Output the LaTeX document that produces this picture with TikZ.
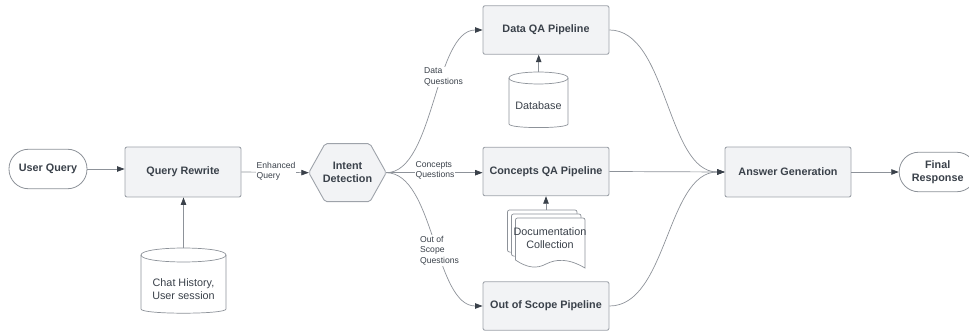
\documentclass[tikz,border=0pt]{standalone}
\usepackage{fontspec}
\setmainfont{Liberation Sans}
\usetikzlibrary{arrows.meta,calc}
\definecolor{ink}{HTML}{3A414A}
\definecolor{edge}{HTML}{8D9299}
\definecolor{boxfill}{HTML}{F2F3F5}
\definecolor{boxline}{HTML}{9EA3AA}
\tikzset{
  procbox/.style={draw=boxline,line width=0.9pt,fill=boxfill,rounded corners=2pt,inner sep=0pt,align=center,text=ink,font=\fontsize{10.8}{13}\selectfont\bfseries},
  pill/.style={draw=edge,line width=0.8pt,fill=white,rounded corners=19.5pt,inner sep=0pt,align=center,text=ink,font=\fontsize{10.8}{13}\selectfont\bfseries},
  bodytext/.style={inner sep=0pt,align=center,text=ink,font=\fontsize{10.8}{13}\selectfont},
  edgelabel/.style={fill=white,inner sep=1pt,align=left,anchor=west,text=ink,font=\fontsize{8.6}{10.4}\selectfont},
  conn/.style={draw=edge,line width=0.7pt,-{Triangle[length=7.5pt,width=5.5pt,fill=ink,color=ink]}},
  plainshape/.style={draw=edge,line width=0.7pt,fill=white},
}
\newcommand{\drawcyl}[5]{% x1 x2 y1 y2 ry
  \path[plainshape] (#1,#3+#5) -- (#1,#4-#5)
     .. controls (#1,#4-0.2*#5) and (#2,#4-0.2*#5) .. (#2,#4-#5)
     -- (#2,#3+#5)
     .. controls (#2,#3-0.33*#5) and (#1,#3-0.33*#5) .. (#1,#3+#5) -- cycle;
  \draw[draw=edge,line width=0.7pt] (#1,#3+#5) .. controls (#1,#3+2.33*#5) and (#2,#3+2.33*#5) .. (#2,#3+#5);
}
\begin{document}
\begin{tikzpicture}[x=1pt,y=-1pt]
\useasboundingbox (0,0) rectangle (969,331);
\clip (0,0) rectangle (969,331);

% shapes
\drawcyl{141}{226}{248}{316}{7}
\drawcyl{509}{568}{72}{130}{6}
% document stack
\path[plainshape,rounded corners=2pt] (507.5,252) -- (507.5,210) -- (577,210) -- (577,255) -- cycle;
\path[plainshape,rounded corners=2pt] (511.5,256) -- (511.5,214) -- (581,214) -- (581,259) -- cycle;
\path[plainshape] (515.5,260) [rounded corners=2pt] -- (515.5,218) -- (585,218) [sharp corners] -- (585,268)
   .. controls (568,258) and (556,259) .. (546,264)
   .. controls (537,269) and (527,268) .. (515.5,260) -- cycle;

% nodes
\node[pill,minimum width=78pt,minimum height=39.5pt] (uq) at (48,169) {User Query};
\node[procbox,minimum width=116pt,minimum height=50pt] (qr) at (183,172) {Query Rewrite};
\node[bodytext,minimum width=77pt,minimum height=58pt] (intent) at (347.5,172.7) {};
\path[draw=boxline,line width=0.9pt,fill=boxfill,rounded corners=2pt]
  (intent.west) -- (325,143.7) -- (370,143.7) -- (intent.east) -- (370,201.7) -- (325,201.7) -- cycle;
\node[bodytext,font=\fontsize{10.8}{13}\selectfont\bfseries] (intenttext) at (intent.center) {Intent\\Detection};
\node[bodytext] (chat) at (183.5,289) {Chat History,\\User session};
\node[procbox,minimum width=126pt,minimum height=48.5pt] (data) at (546,30) {Data QA Pipeline};
\node[bodytext] (db) at (538.5,105.5) {Database};
\node[procbox,minimum width=126pt,minimum height=48.5pt] (conc) at (546,171.5) {Concepts QA Pipeline};
\node[bodytext] (doc) at (550,238) {Documentation\\Collection};
\node[procbox,minimum width=126pt,minimum height=48.5pt] (oos) at (546,306) {Out of Scope Pipeline};
\node[procbox,minimum width=126pt,minimum height=50pt] (ans) at (788,172) {Answer Generation};
\node[pill,minimum width=77pt,minimum height=39.5pt] (final) at (937.7,172) {Final\\Response};

% free ends
\coordinate (chatTop) at (183.5,248);
\coordinate (dbTop) at (538.7,72);
\coordinate (docTop) at (546,210);

% connectors
\draw[conn] (intent.east) .. controls +(48,0) and +(-48,0) .. (data.west);
\draw[conn] (intent.east) .. controls +(48,0) and +(-48,0) .. (oos.west);
\draw[conn] (data.east) .. controls +(58,0) and +(-58,0) .. (ans.west);
\draw[conn] (oos.east) .. controls +(58,0) and +(-58,0) .. (ans.west);
\draw[conn] (conc.east) -- (ans.west);
\draw[conn] (uq.east) -- (qr.west |- uq.east);
\draw[conn] (qr.east) -- (intent.west);
\draw[conn] (chatTop) -- (chatTop |- qr.south);
\draw[conn] (dbTop) -- (dbTop |- data.south);
\draw[conn] (docTop) -- (conc.south);
\draw[conn] (intent.east) -- (intent.east -| conc.west);
\draw[conn] (ans.east) -- (final.west);

% connector labels
\node[edgelabel] (lq) at (255.5,171.5) {Enhanced\\Query};
\node[edgelabel] (ld) at (423,77) {Data\\Questions};
\node[edgelabel] (lc) at (414.5,170.5) {Concepts\\Questions};
\node[edgelabel] (lo) at (419,250.5) {Out of\\Scope\\Questions};
\end{tikzpicture}
\end{document}
